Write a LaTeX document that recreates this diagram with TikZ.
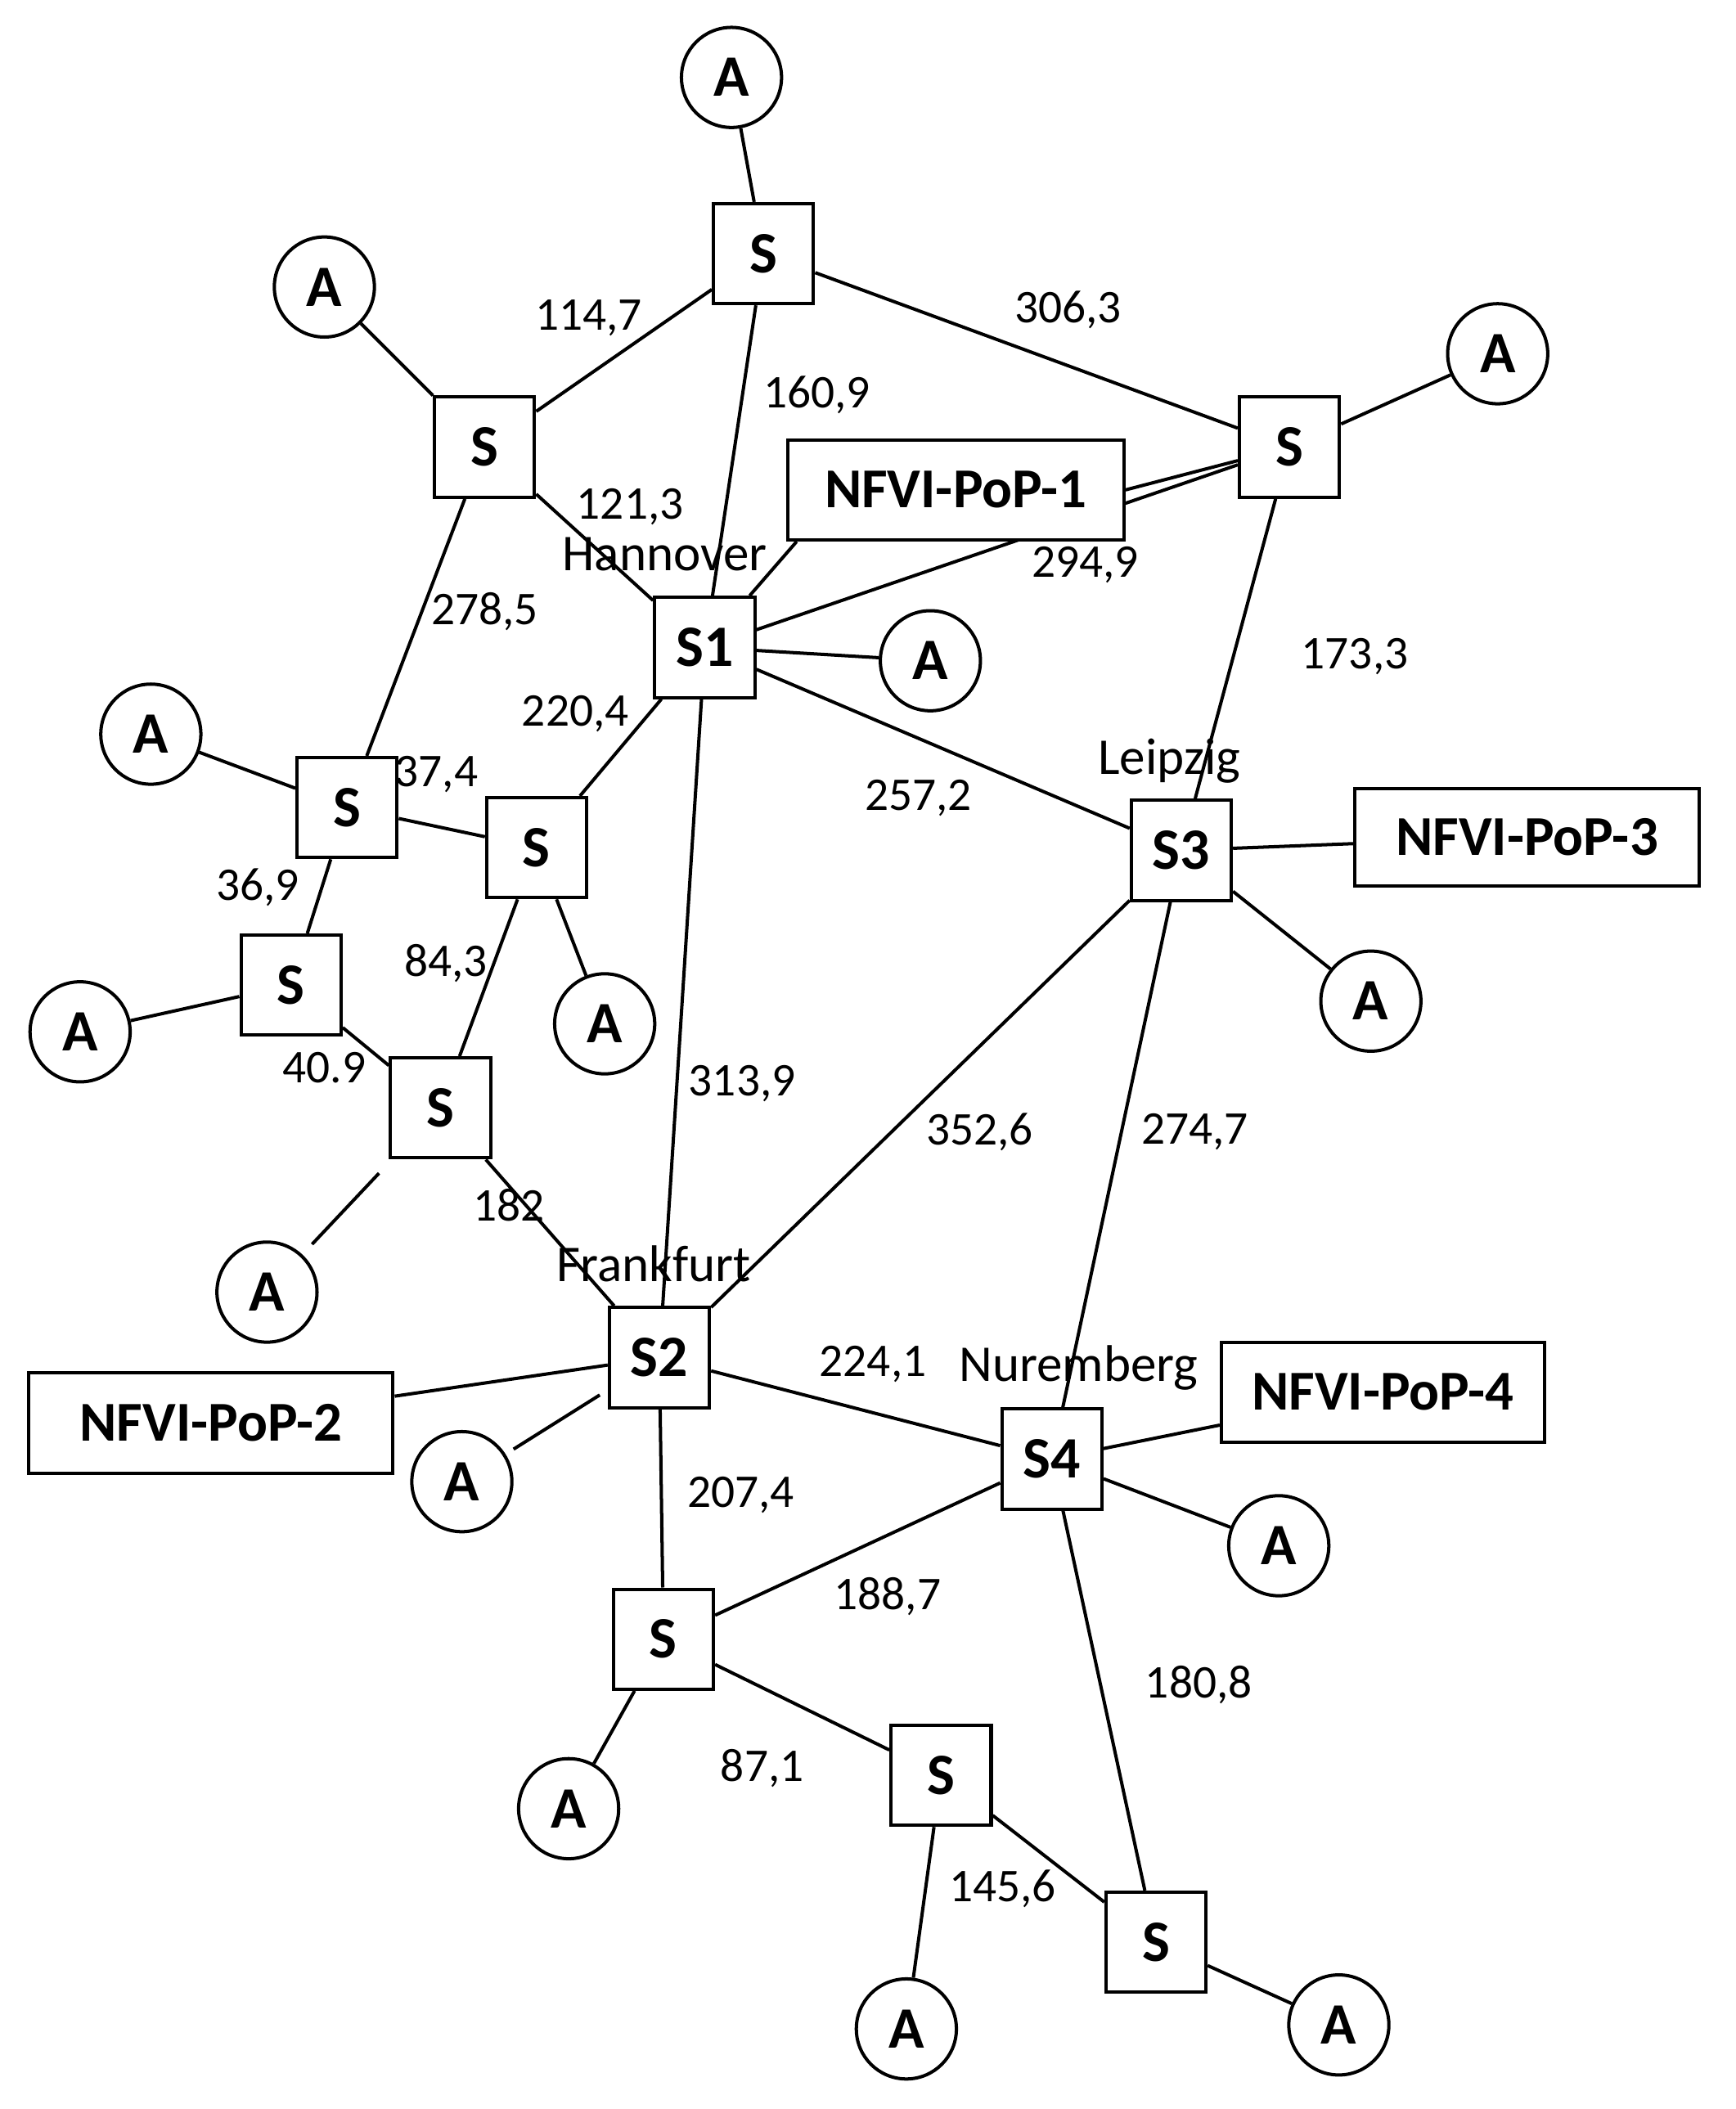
\documentclass[tikz,border=0pt]{standalone}
\usepackage{fontspec}
\setmainfont{Carlito}
\begin{document}
\begin{tikzpicture}[x=0.02cm,y=-0.02cm,
 sq/.style={draw,line width=1.4pt,fill=white,minimum size=1.5cm,inner sep=0pt,font=\fontsize{25}{30}\selectfont\bfseries},
 ac/.style={draw,circle,line width=1.4pt,fill=white,minimum size=1.5cm,inner sep=0pt,font=\fontsize{25}{30}\selectfont\bfseries},
 pop/.style={draw,line width=1.4pt,fill=white,minimum height=1.5cm,inner sep=0pt,font=\fontsize{24}{28}\selectfont\bfseries},
 lb/.style={font=\fontsize{20}{24}\selectfont},
 city/.style={font=\fontsize{22}{26}\selectfont},
 e/.style={line width=1.4pt}]
\useasboundingbox (0,0) rectangle (1300,1580);
% nodes
\node[sq] (St) at (572,190) {S};
\node[ac] (At) at (548,58) {A};
\node[ac] (Alt) at (243,215) {A};
\node[sq] (Sl) at (363,335) {S};
\node[sq] (Sr) at (966,335) {S};
\node[ac] (Ar) at (1122,265) {A};
\node[sq] (S1) at (528,485) {S1};
\node[ac] (A1) at (697,495) {A};
\node[ac] (Aa) at (113,550) {A};
\node[sq] (Sa) at (260,605) {S};
\node[sq] (Sb) at (402,635) {S};
\node[ac] (Ab) at (453,767) {A};
\node[sq] (Sc) at (218,738) {S};
\node[ac] (Ac) at (60,773) {A};
\node[sq] (Sd) at (330,830) {S};
\node[ac] (Ad) at (200,968) {A};
\node[sq] (S3) at (885,637) {S3};
\node[ac] (A3) at (1027,750) {A};
\node[sq] (S2) at (494,1017) {S2};
\node[ac] (A2) at (346,1110) {A};
\node[sq] (S4) at (788,1093) {S4};
\node[ac] (A4) at (958,1158) {A};
\node[sq] (Se) at (497,1228) {S};
\node[ac] (Ae) at (426,1355) {A};
\node[sq] (Sf) at (705,1330) {S};
\node[ac] (Af) at (679,1520) {A};
\node[sq] (Sg) at (866,1455) {S};
\node[ac] (Ag) at (1003,1517) {A};
% edges
\begin{scope}[on background layer/.style={}]
\end{scope}
\begin{pgfonlayer}{main}\end{pgfonlayer}
\draw[e] (St)--(At);
\draw[e] (St)--(Sl);
\draw[e] (St)--(S1);
\draw[e] (St)--(Sr);
\draw[e] (Sl)--(Alt);
\draw[e] (Sl)--(S1);
\draw[e] (Sl)--(Sa);
\draw[e] (Sr)--(Ar);
\draw[e] (S1)--(Sr);
\draw[e] (Sr)--(S3);
\draw[e] (S1)--(A1);
\draw[e] (S1)--(Sb);
\draw[e] (S1)--(S3);
\draw[e] (S1)--(S2);
\draw[e] (Sa)--(Aa);
\draw[e] (Sa)--(Sb);
\draw[e] (Sa)--(Sc);
\draw[e] (Sb)--(Ab);
\draw[e] (Sb)--(Sd);
\draw[e] (Sc)--(Ac);
\draw[e] (Sc)--(Sd);
\draw[e,shorten <=8pt,shorten >=6pt] (Sd)--(Ad);
\draw[e] (Sd)--(S2);
\draw[e] (S3)--(A3);
\draw[e] (S3)--(S2);
\draw[e] (S3)--(S4);
\draw[e,shorten <=4pt,shorten >=4pt] (S2)--(A2);
\draw[e] (S2)--(S4);
\draw[e] (S2)--(Se);
\draw[e] (S4)--(A4);
\draw[e] (S4)--(Se);
\draw[e] (S4)--(Sg);
\draw[e] (Se)--(Ae);
\draw[e] (Se)--(Sf);
\draw[e] (Sf)--(Af);
\draw[e] (Sf)--(Sg);
\draw[e] (Sg)--(Ag);
% redraw nodes on top of edges
\foreach \n in {St,Sl,Sr,S1,Sa,Sb,Sc,Sd,S3,S2,S4,Se,Sf,Sg}{}
% PoP boxes
\node[pop,minimum width=5.04cm] (P1) at (716,367) {NFVI-PoP-1};
\node[pop,minimum width=5.16cm,minimum height=1.46cm] (P3) at (1144,627) {NFVI-PoP-3};
\node[pop,minimum width=5.46cm] (P2) at (158,1066) {NFVI-PoP-2};
\node[pop,minimum width=4.84cm] (P4) at (1036,1043) {NFVI-PoP-4};
\draw[e] (P1.east)--(Sr);
\draw[e] (P1.south west)+(8,0) coordinate (p1a);
\draw[e] (p1a)--(S1);
\draw[e] (S3)--(P3);
\draw[e] (S2)--(P2);
\draw[e] (S4)--(P4);
% labels
\node[lb] at (441,238) {114,7};
\node[lb] at (612,296) {160,9};
\node[lb] at (800,232) {306,3};
\node[lb] at (472,380) {121,3};
\node[lb] at (363,458) {278,5};
\node[lb] at (813,423) {294,9};
\node[lb] at (1015,492) {173,3};
\node[lb] at (431,535) {220,4};
\node[lb] at (688,598) {257,2};
\node[lb] at (327,580) {37,4};
\node[lb] at (193,665) {36,9};
\node[lb] at (334,722) {84,3};
\node[lb] at (243,800) {40.9};
\node[lb] at (556,812) {313,9};
\node[lb] at (734,848) {352,6};
\node[lb] at (895,848) {274,7};
\node[lb] at (381,903) {182};
\node[lb] at (654,1022) {224,1};
\node[lb] at (555,1120) {207,4};
\node[lb] at (665,1196) {188,7};
\node[lb] at (898,1262) {180,8};
\node[lb] at (571,1325) {87,1};
\node[lb] at (751,1415) {145,6};
\node[city] at (498,415) {Hannover};
\node[city] at (876,570) {Leipzig};
\node[city] at (490,947) {Frankfurt};
\node[city] at (808,1025) {Nuremberg};
\end{tikzpicture}
\end{document}
